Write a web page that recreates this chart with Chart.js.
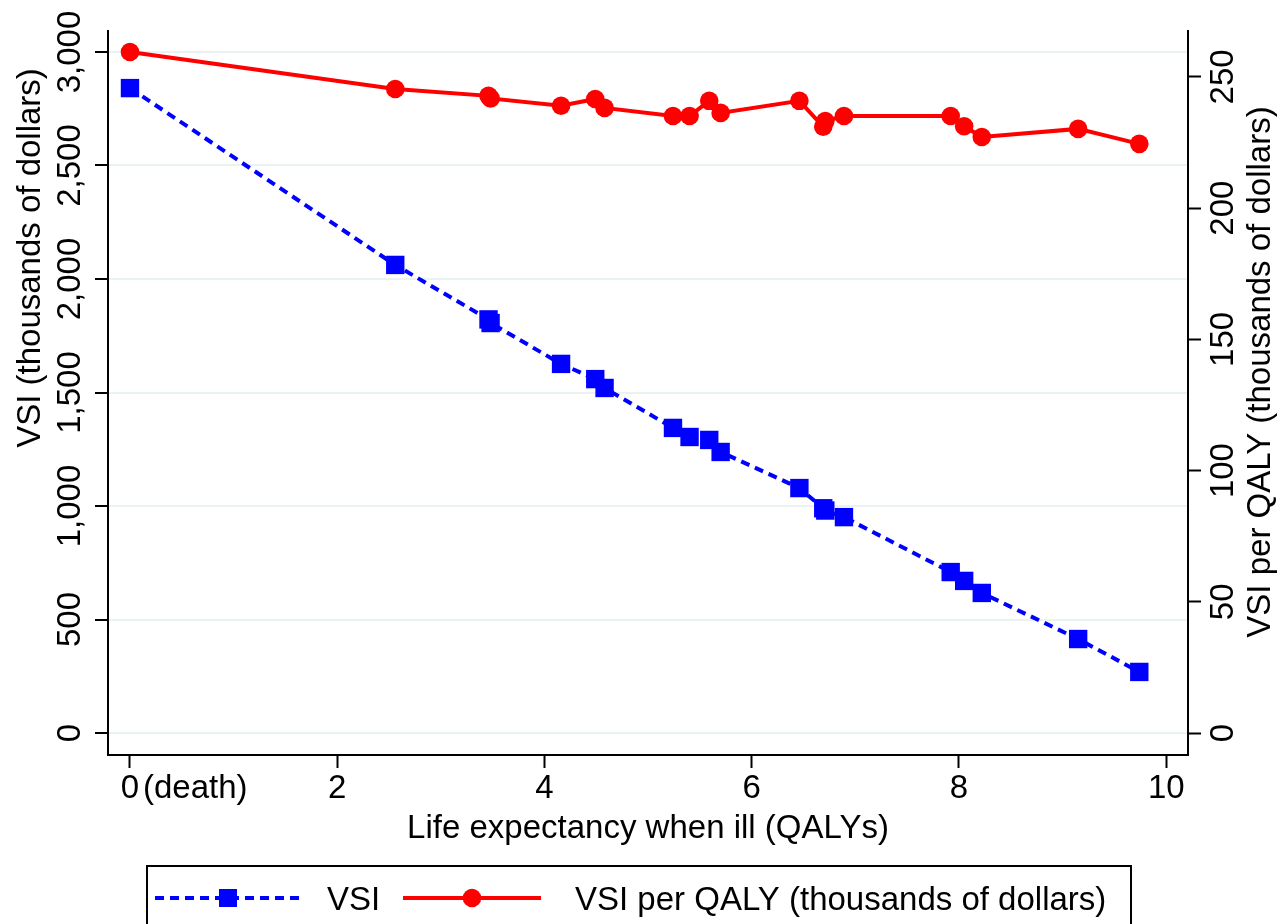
<!DOCTYPE html>
<html>
<head>
<meta charset="utf-8">
<script src="https://cdn.jsdelivr.net/npm/chart.js@4.4.1/dist/chart.umd.min.js"></script>
<style>
    html, body { margin: 0; background: #fff; }
    #wrap { width: 1280px; height: 924px; position: relative; }
</style>
</head>
<body>
<div id="wrap"><canvas id="chart"></canvas></div>
<script>
// values
const lifeExp    = [0, 2.56, 3.46, 3.48, 4.16, 4.49, 4.58, 5.24, 5.40, 5.59, 5.70, 6.46, 6.69, 6.71, 6.89, 7.92, 8.05, 8.22, 9.15, 9.74];
const vsi        = [2841, 2062, 1822, 1806, 1626, 1559, 1520, 1344, 1304, 1291, 1238, 1079, 990, 980, 951, 709, 670, 617, 414, 269];
const vsiPerQaly = [259.5, 245.4, 242.8, 241.8, 239.0, 241.6, 238.2, 235.1, 235.1, 240.9, 236.3, 240.9, 231.0, 233.2, 235.1, 235.1, 231.2, 227.1, 230.2, 224.5];

const xTicks     = [0, 2, 4, 6, 8, 10];
const leftTicks  = [0, 500, 1000, 1500, 2000, 2500, 3000];
const rightTicks = [0, 50, 100, 150, 200, 250];

const xTitle     = 'Life expectancy when ill (QALYs)';
const leftTitle  = 'VSI (thousands of dollars)';
const rightTitle = 'VSI per QALY (thousands of dollars)';
const deathNote  = '(death)';
const labels     = ['VSI', 'VSI per QALY (thousands of dollars)'];

const FONT = '"Liberation Sans", Arial, sans-serif';
const BLUE = '#0000ff';
const RED = '#ff0000';

function rotText(ctx, txt, x, y) {
    ctx.save();
    ctx.translate(x, y);
    ctx.rotate(-Math.PI / 2);
    ctx.fillText(txt, 0, 0);
    ctx.restore();
}

const textPlugin = {
    id: 'stataText',
    afterDraw(chart) {
        const ctx = chart.ctx, s = chart.scales, area = chart.chartArea;
        ctx.save();
        ctx.fillStyle = '#000';
        ctx.font = '33px ' + FONT;
        ctx.textBaseline = 'alphabetic';
        ctx.textAlign = 'center';

        leftTicks.forEach(v => rotText(ctx, v.toLocaleString('en-US'), 80, s.y.getPixelForValue(v)));
        rightTicks.forEach(v => rotText(ctx, String(v), 1233, s.y2.getPixelForValue(v)));
        xTicks.forEach(v => ctx.fillText(String(v), s.x.getPixelForValue(v), 798));
        ctx.textAlign = 'left';
        ctx.fillText(deathNote, s.x.getPixelForValue(0) + 13, 798);

        ctx.textAlign = 'center';
        ctx.fillText(xTitle, (area.left + area.right) / 2, 838);
        rotText(ctx, leftTitle, 40, 258);
        rotText(ctx, rightTitle, 1270, 372);

        // legend box
        ctx.strokeStyle = '#000';
        ctx.lineWidth = 2;
        ctx.strokeRect(147, 866, 984, 80);
        const ly = 898;
        ctx.lineWidth = 4;
        ctx.strokeStyle = BLUE;
        ctx.setLineDash([9, 6]);
        ctx.beginPath(); ctx.moveTo(155, ly); ctx.lineTo(303, ly); ctx.stroke();
        ctx.setLineDash([]);
        ctx.fillStyle = BLUE;
        ctx.fillRect(228 - 9, ly - 9, 18, 18);
        ctx.strokeStyle = RED;
        ctx.beginPath(); ctx.moveTo(403, ly); ctx.lineTo(541, ly); ctx.stroke();
        ctx.fillStyle = RED;
        ctx.beginPath(); ctx.arc(472, ly, 9.3, 0, Math.PI * 2); ctx.fill();
        ctx.fillStyle = '#000';
        ctx.textAlign = 'left';
        ctx.fillText(labels[0], 327, 910);
        ctx.fillText(labels[1], 575, 910);
        ctx.restore();
    }
};

const setTicks = arr => scale => { scale.ticks = arr.map(v => ({ value: v })); };
const axisBorder = { display: true, color: '#000', width: 2 };

new Chart(document.getElementById('chart'), {
    type: 'line',
    data: {
        datasets: [
            {
                label: labels[0],
                data: lifeExp.map((x, i) => ({ x: x, y: vsi[i] })),
                yAxisID: 'y',
                borderColor: BLUE,
                backgroundColor: BLUE,
                borderWidth: 4,
                borderDash: [9, 6],
                pointStyle: 'rect',
                pointRadius: 13,
                pointBorderWidth: 0,
                tension: 0
            },
            {
                label: labels[1],
                data: lifeExp.map((x, i) => ({ x: x, y: vsiPerQaly[i] })),
                yAxisID: 'y2',
                borderColor: RED,
                backgroundColor: RED,
                borderWidth: 4,
                pointStyle: 'circle',
                pointRadius: 9.3,
                pointBorderWidth: 0,
                tension: 0
            }
        ]
    },
    options: {
        responsive: true,
        maintainAspectRatio: false,
        animation: false,
        layout: { padding: { top: 31, left: 0, right: 0, bottom: 0 } },
        plugins: { legend: { display: false }, tooltip: { enabled: false } },
        scales: {
            x: {
                type: 'linear', min: -0.212, max: 10.21,
                afterBuildTicks: setTicks(xTicks),
                afterFit: s => { s.height = 169; },
                ticks: { display: false },
                grid: { drawOnChartArea: false, tickLength: 13, tickColor: '#000', tickWidth: 2 },
                border: axisBorder
            },
            y: {
                position: 'left', min: -96.9, max: 3092.5,
                afterBuildTicks: setTicks(leftTicks),
                afterFit: s => { s.width = 108; },
                ticks: { display: false },
                grid: { color: '#eaf2f3', lineWidth: 2, tickLength: 13, tickColor: '#000', tickWidth: 2 },
                border: axisBorder
            },
            y2: {
                position: 'right', min: -8.38, max: 267.5,
                afterBuildTicks: setTicks(rightTicks),
                afterFit: s => { s.width = 92; },
                ticks: { display: false },
                grid: { drawOnChartArea: false, tickLength: 13, tickColor: '#000', tickWidth: 2 },
                border: axisBorder
            }
        }
    },
    plugins: [textPlugin]
});
</script>
</body>
</html>
